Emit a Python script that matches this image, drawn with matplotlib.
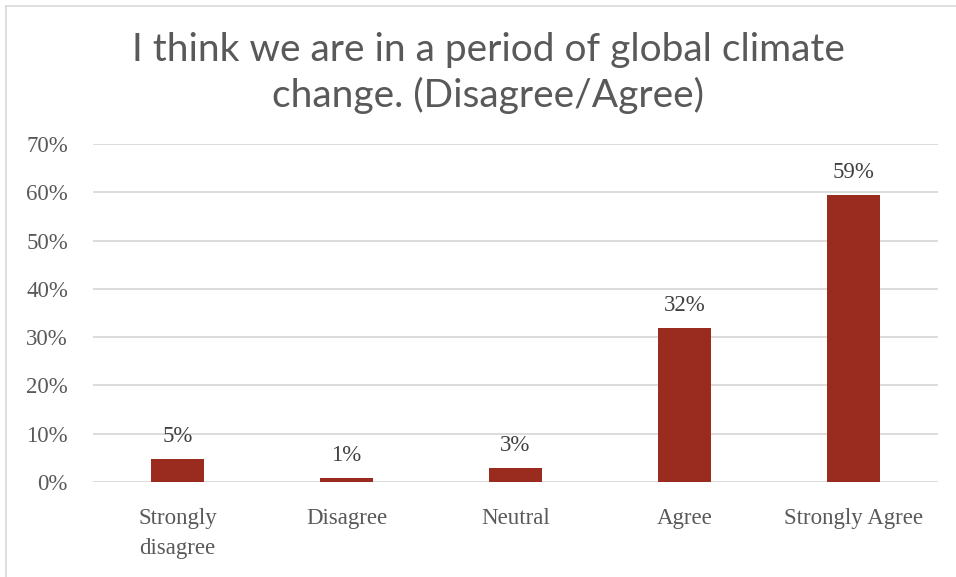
import matplotlib.pyplot as plt
from matplotlib.lines import Line2D

categories = ['Strongly\ndisagree', 'Disagree', 'Neutral', 'Agree', 'Strongly Agree']
values = [0.048, 0.008, 0.029, 0.319, 0.594]
labels = ['5%', '1%', '3%', '32%', '59%']
yticks = [0, 0.1, 0.2, 0.3, 0.4, 0.5, 0.6, 0.7]

bar_color = '#9A2B1F'
text_color = '#595959'
grid_color = '#D9D9D9'

fig = plt.figure(figsize=(9.56, 5.77), dpi=100)
ax = fig.add_axes([93 / 956, 1 - 482 / 577, 845 / 956, 338 / 577])

x = range(len(categories))
ax.bar(x, values, width=0.31, color=bar_color, zorder=3)

# data labels above bars
for xi, v, lab in zip(x, values, labels):
    ax.text(xi, v + 0.025, lab, ha='center', va='bottom', fontsize=16.5,
            family='Liberation Serif', color='#404040')

ax.set_xlim(-0.5, len(categories) - 0.5)
ax.set_ylim(0, 0.7)
ax.set_yticks(yticks)
ax.set_yticklabels(['%d%%' % round(t * 100) for t in yticks])
ax.set_xticks(list(x))
ax.set_xticklabels(categories, linespacing=1.55)
for t in ax.get_xticklabels() + ax.get_yticklabels():
    t.set_family('Liberation Serif')
    t.set_fontsize(16.5)
    t.set_color(text_color)
ax.tick_params(axis='both', length=0)
ax.tick_params(axis='x', pad=19)
ax.tick_params(axis='y', pad=18)

ax.yaxis.grid(True, color=grid_color, linewidth=1.3, zorder=0)
for s in ax.spines.values():
    s.set_visible(False)

fig.text(488 / 956, 1 - 50 / 577, 'I think we are in a period of global climate',
         ha='center', va='center', fontsize=28, family='Lato',
         color=text_color)
fig.text(488 / 956, 1 - 95 / 577, 'change. (Disagree/Agree)',
         ha='center', va='center', fontsize=28, family='Lato',
         color=text_color)

# outer chart frame
fig.add_artist(Line2D([6 / 956, 6 / 956], [0, 1 - 6 / 577], transform=fig.transFigure,
                      color='#D9D9D9', linewidth=1.2))
fig.add_artist(Line2D([6 / 956, 1], [1 - 6 / 577, 1 - 6 / 577], transform=fig.transFigure,
                      color='#D9D9D9', linewidth=1.2))

fig.savefig('out.png', dpi=100, facecolor='white')
